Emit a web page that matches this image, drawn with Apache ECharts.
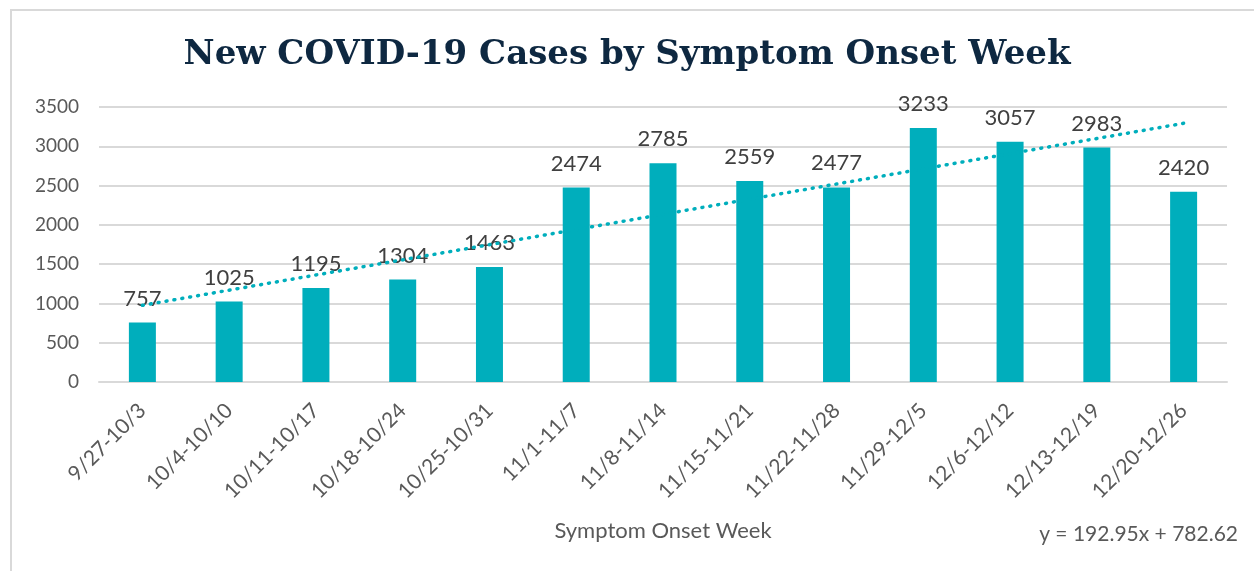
<!DOCTYPE html>
<html>
<head>
<meta charset="utf-8">
<style>
  html, body { margin: 0; padding: 0; background: #fff; }
  #chart { width: 1254px; height: 571px; }
</style>
<script src="https://cdn.jsdelivr.net/npm/echarts@6/dist/echarts.min.js"></script>
</head>
<body>
<div id="chart"></div>
<script>
const weeks = ['9/27-10/3', '10/4-10/10', '10/11-10/17', '10/18-10/24', '10/25-10/31', '11/1-11/7',
  '11/8-11/14', '11/15-11/21', '11/22-11/28', '11/29-12/5', '12/6-12/12', '12/13-12/19', '12/20-12/26']
const cases = [757, 1025, 1195, 1304, 1463, 2474, 2785, 2559, 2477, 3233, 3057, 2983, 2420]
// trendline end points as shown (y = 192.95x + 782.62)
const trendPoints = [['9/27-10/3', 975.6], ['12/20-12/26', 3291.97]]
const equation = 'y = 192.95x + 782.62'

const chart = echarts.init(document.getElementById('chart'))
const font = 'Lato, "Open Sans", sans-serif'

chart.setOption({
  animation: false,
  textStyle: { fontFamily: font },
  title: {
    text: 'New COVID-19 Cases by Symptom Onset Week',
    left: 'center',
    top: 33,
    textStyle: {
      fontFamily: '"DejaVu Serif", serif',
      fontWeight: 'bold',
      fontSize: 34,
      color: '#0E2841'
    }
  },
  graphic: [
    {
      type: 'rect',
      shape: { x: 11, y: 10, width: 1260, height: 580 },
      style: { fill: 'none', stroke: '#d9d9d9', lineWidth: 2 },
      silent: true
    },
    {
      type: 'text',
      right: 16,
      top: 524,
      style: { text: equation, fontFamily: font, fontSize: 21, fill: '#595959' }
    }
  ],
  grid: { left: 99, right: 27, top: 107, bottom: 189 },
  xAxis: {
    type: 'category',
    data: weeks,
    name: 'Symptom Onset Week',
    nameLocation: 'middle',
    nameGap: 138,
    nameTextStyle: { fontSize: 22, color: '#595959', fontFamily: font },
    axisLine: { lineStyle: { color: '#d9d9d9', width: 2 } },
    axisTick: { show: false },
    axisLabel: {
      rotate: 45,
      interval: 0,
      fontSize: 21,
      color: '#595959',
      margin: 25
    }
  },
  yAxis: {
    type: 'value',
    min: 0,
    max: 3500,
    interval: 500,
    axisLine: { show: false },
    axisTick: { show: false },
    axisLabel: { fontSize: 19, color: '#595959', margin: 20, formatter: v => String(v) },
    splitLine: { lineStyle: { color: '#d9d9d9', width: 2 } }
  },
  series: [
    {
      type: 'bar',
      data: cases,
      barWidth: 27,
      itemStyle: { color: '#00AEBC' },
      label: {
        show: true,
        position: 'top',
        distance: 13,
        fontSize: 22,
        color: '#404040',
        fontFamily: font
      },
      z: 2
    },
    {
      type: 'line',
      data: trendPoints,
      symbol: 'none',
      lineStyle: { color: '#00AEBC', width: 3.5, type: [1, 7], cap: 'round' },
      z: 3
    }
  ]
})
</script>
</body>
</html>
